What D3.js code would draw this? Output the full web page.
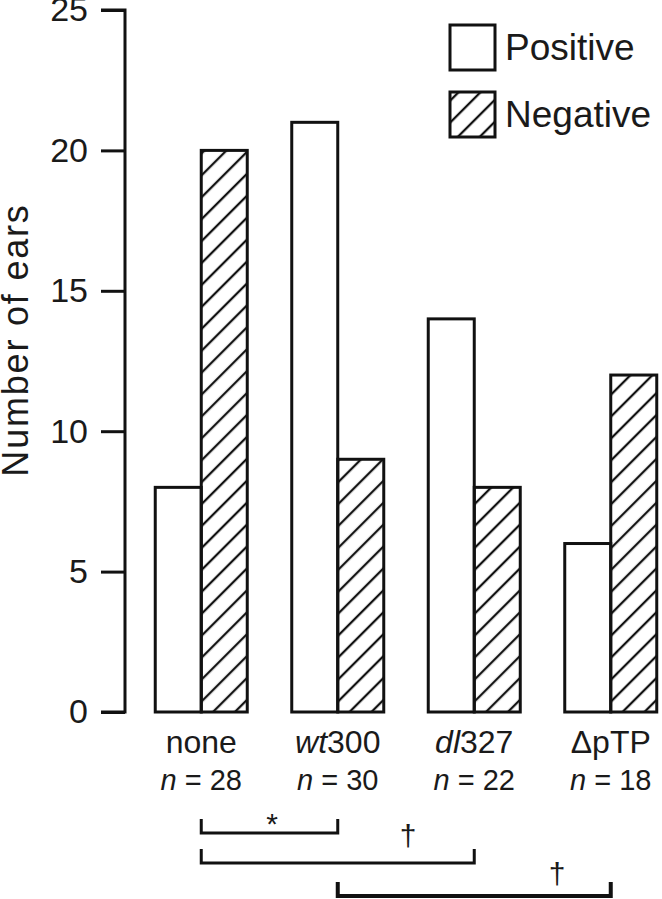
<!DOCTYPE html>
<html>
<head>
<meta charset="utf-8">
<script src="https://cdn.jsdelivr.net/npm/d3@7"></script>
<style>
  html, body { margin: 0; padding: 0; background: #fff; }
  svg { display: block; }
  text { font-family: "Liberation Sans", Arial, Helvetica, sans-serif; fill: #1a1a1a; }
</style>
</head>
<body>
<script>
// ---- data ----
const categories = ["none", "wt300", "dl327", "dpTP"];
const catItalic = ["", "wt", "dl", ""];
const catPlain = ["none", "300", "327", "\u0394pTP"];
const nValues = [28, 30, 22, 18];
const series = ["Positive", "Negative"];
const positive = [8, 21, 14, 6];
const negative = [20, 9, 8, 12];
const yTicks = [0, 5, 10, 15, 20, 25];
const compFrom = ["none", "none", "wt300"];
const compTo = ["wt300", "dl327", "dpTP"];
const compMark = ["*", "\u2020", "\u2020"];

// ---- layout ----
const W = 662, H = 899;
const svg = d3.select("body").append("svg").attr("width", W).attr("height", H);

const y = d3.scaleLinear().domain([0, 25]).range([712, 10]);
const x0 = d3.scaleBand().domain(categories).range([133, 679]).padding(0);
const x1 = d3.scaleBand().domain(series)
  .range([x0.bandwidth() / 2 - 46, x0.bandwidth() / 2 + 46]).padding(0);
const center = c => x0(c) + x0.bandwidth() / 2;

// hatch pattern
const defs = svg.append("defs");
defs.append("pattern")
  .attr("id", "hatch").attr("patternUnits", "userSpaceOnUse")
  .attr("width", 15.5).attr("height", 15.5)
  .attr("patternTransform", "rotate(45)")
  .append("line").attr("x1", 2).attr("y1", 0).attr("x2", 2).attr("y2", 15.5)
  .attr("stroke", "#111").attr("stroke-width", 2.3);

// y axis
const yAxis = d3.axisLeft(y).tickValues(yTicks).tickSize(24).tickPadding(13);
const gy = svg.append("g").attr("transform", "translate(125,0)").call(yAxis);
gy.select(".domain").attr("stroke", "#111").attr("stroke-width", 3)
  .attr("d", `M-24,${y(25)}H0V${y(0)}H-24`);
gy.selectAll(".tick line").attr("stroke", "#111").attr("stroke-width", 3);
gy.selectAll(".tick text").style("font-size", "34px").attr("fill", "#1a1a1a")
  .attr("font-family", "Liberation Sans, Arial, sans-serif");

svg.append("text")
  .attr("transform", `translate(28,${340}) rotate(-90)`)
  .attr("text-anchor", "middle")
  .style("font-size", "36px")
  .style("letter-spacing", "1.8px")
  .text("Number of ears");

// bars
const rows = categories.map((c, i) => ({ cat: c, vals: [
  { s: "Positive", v: positive[i] }, { s: "Negative", v: negative[i] } ] }));
const groups = svg.selectAll("g.grp").data(rows).join("g").attr("class", "grp")
  .attr("transform", d => `translate(${x0(d.cat)},0)`);
groups.selectAll("rect").data(d => d.vals).join("rect")
  .attr("x", d => x1(d.s))
  .attr("y", d => y(d.v))
  .attr("width", x1.bandwidth())
  .attr("height", d => y(0) - y(d.v))
  .attr("fill", d => d.s === "Positive" ? "#fff" : "url(#hatch)")
  .attr("stroke", "#111").attr("stroke-width", 3);

// category labels
categories.forEach((c, i) => {
  const t = svg.append("text").attr("x", center(c)).attr("y", 753)
    .attr("text-anchor", "middle").style("font-size", "32px");
  if (catItalic[i]) t.append("tspan").style("font-style", "italic").text(catItalic[i]);
  t.append("tspan").text(catPlain[i]);
  const n = svg.append("text").attr("x", center(c)).attr("y", 790)
    .attr("text-anchor", "middle").style("font-size", "29px");
  n.append("tspan").style("font-style", "italic").text("n");
  n.append("tspan").text(" = " + nValues[i]);
});

// legend
const legY = [25, 92];
series.forEach((s, i) => {
  svg.append("rect").attr("x", 450).attr("y", legY[i]).attr("width", 45).attr("height", 45)
    .attr("fill", s === "Positive" ? "#fff" : "url(#hatch)")
    .attr("stroke", "#111").attr("stroke-width", 3);
  svg.append("text").attr("x", 505).attr("y", legY[i] + 35)
    .style("font-size", "37px").text(s);
});

// comparison brackets
const brY = [833, 863, 896];
const brW = [3, 3, 4];
const markPos = [
  { dx: 272, dy: 834, size: 30 },
  { dx: 408, dy: 846, size: 30 },
  { dx: 557, dy: 884, size: 30 }
];
compFrom.forEach((f, i) => {
  const xa = center(f), xb = center(compTo[i]);
  svg.append("path")
    .attr("d", `M${xa},${brY[i] - 14}V${brY[i]}H${xb}V${brY[i] - 14}`)
    .attr("fill", "none").attr("stroke", "#111").attr("stroke-width", brW[i]);
  svg.append("text").attr("x", markPos[i].dx).attr("y", markPos[i].dy)
    .attr("text-anchor", "middle").style("font-size", markPos[i].size + "px")
    .text(compMark[i]);
});
</script>
</body>
</html>
